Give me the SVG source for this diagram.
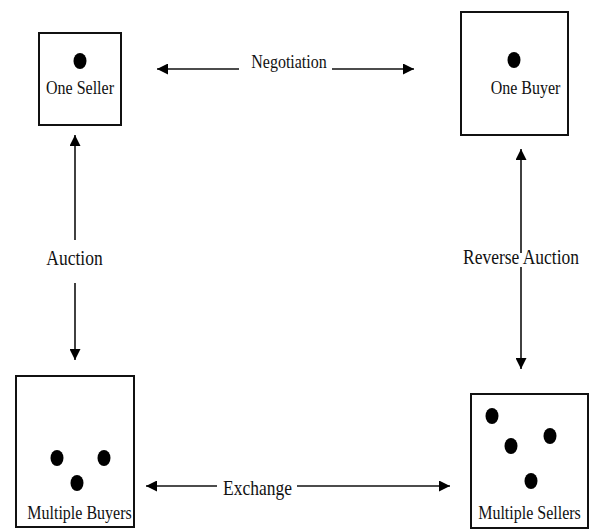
<svg xmlns="http://www.w3.org/2000/svg" width="589" height="529" viewBox="0 0 589 529">
<style>
.box{fill:#fff;stroke:#111;stroke-width:2}
.dot{fill:#000}
.lbl{font-family:"Liberation Serif","Times New Roman",serif;font-size:16px;fill:#111;text-anchor:middle}
.big{font-size:17.5px}
.conn{stroke:#111;stroke-width:1.6;fill:none;marker-end:url(#ah)}
</style>
<defs>
<marker id="ah" markerUnits="userSpaceOnUse" markerWidth="11" markerHeight="11" refX="11" refY="5.5" orient="auto">
<path d="M0,0 L11,5.5 L0,11 z" fill="#000"/>
</marker>
</defs>
<rect width="589" height="529" fill="#fff"/>
<g id="one-seller">
<rect class="box" x="39" y="33" width="82" height="92"/>
<ellipse class="dot" cx="80" cy="61" rx="6.5" ry="8"/>
<text class="lbl" transform="translate(80,94) scale(1,1.2)">One Seller</text>
</g>
<g id="one-buyer">
<rect class="box" x="461" y="12" width="107" height="123"/>
<ellipse class="dot" cx="514" cy="60" rx="6.5" ry="8"/>
<text class="lbl" transform="translate(525.5,94) scale(1,1.2)">One Buyer</text>
</g>
<g id="multiple-buyers">
<rect class="box" x="16" y="376" width="118" height="151"/>
<ellipse class="dot" cx="57" cy="458" rx="6.5" ry="8"/>
<ellipse class="dot" cx="104" cy="458" rx="6.5" ry="8"/>
<ellipse class="dot" cx="77" cy="483" rx="6.5" ry="8"/>
<text class="lbl" transform="translate(79.5,519) scale(1,1.2)">Multiple Buyers</text>
</g>
<g id="multiple-sellers">
<rect class="box" x="471" y="394" width="117" height="134"/>
<ellipse class="dot" cx="492" cy="416" rx="6.5" ry="8"/>
<ellipse class="dot" cx="511" cy="446" rx="6.5" ry="8"/>
<ellipse class="dot" cx="550" cy="436" rx="6.5" ry="8"/>
<ellipse class="dot" cx="531" cy="481" rx="6.5" ry="8"/>
<text class="lbl" transform="translate(529.5,519) scale(1,1.2)">Multiple Sellers</text>
</g>
<g id="connectors">
<line class="conn" x1="239" y1="69" x2="157" y2="69"/>
<line class="conn" x1="332" y1="69" x2="414" y2="69"/>
<line class="conn" x1="75" y1="240" x2="75" y2="135"/>
<line class="conn" x1="75" y1="283" x2="75" y2="360"/>
<line class="conn" x1="521" y1="253" x2="521" y2="149"/>
<line class="conn" x1="521" y1="267" x2="521" y2="369"/>
<line class="conn" x1="217" y1="486" x2="146" y2="486"/>
<line class="conn" x1="297" y1="486" x2="450" y2="486"/>
</g>
<g id="labels">
<text class="lbl" transform="translate(289,68) scale(1,1.15)">Negotiation</text>
<text class="lbl big" transform="translate(74.5,265) scale(1,1.15)">Auction</text>
<text class="lbl big" transform="translate(521,264) scale(1,1.15)">Reverse Auction</text>
<text class="lbl big" transform="translate(257.5,495) scale(1,1.15)">Exchange</text>
</g>
</svg>
